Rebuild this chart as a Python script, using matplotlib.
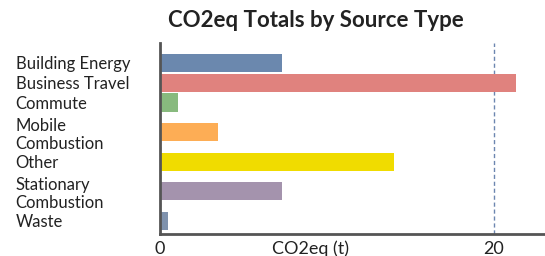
import matplotlib
matplotlib.use("Agg")
import matplotlib.pyplot as plt
import numpy as np

categories = ["Building Energy", "Business Travel", "Commute", "Mobile\nCombustion",
              "Other", "Stationary\nCombustion", "Waste"]
totals = [7.3, 21.3, 1.05, 3.45, 14.0, 7.3, 0.45]
colors = ["#6b88ae", "#e0827e", "#88ba7e", "#fdad55", "#f0dc00", "#a493ad", "#7f92ad"]

plt.rcParams['font.family'] = ['Lato', 'DejaVu Sans']

# each label takes as many rows as it has lines
nlines = [c.count("\n") + 1 for c in categories]
starts = np.cumsum([0] + nlines[:-1])
pos = starts + (np.array(nlines) - 1) / 2

fig = plt.figure(figsize=(5.45, 2.56), dpi=100)
ax = fig.add_axes([160 / 545, 22 / 256, 384 / 545, 191 / 256])
ax.barh(pos, totals, height=0.92, color=colors, zorder=2)
ax.set_xlim(0, 23)
ax.set_ylim(8.66, -1.01)

ax.set_yticks(pos)
ax.set_yticklabels(categories, fontsize=12, color="#222222", ha="left",
                   multialignment="left", linespacing=1.2)
ax.tick_params(axis="y", length=0, pad=104)
ax.set_xticks([0, 20])
ax.tick_params(axis="x", length=0, pad=5, labelsize=13, labelcolor="#222222")
ax.xaxis.grid(True, linestyle=(0, (3, 2)), color="#6c86b0", linewidth=1)

for s in ["top", "right"]:
    ax.spines[s].set_visible(False)
for s in ["left", "bottom"]:
    ax.spines[s].set_color("#555555")
    ax.spines[s].set_linewidth(2)

ax.set_xlabel("CO2eq (t)", fontsize=13, color="#222222")
ax.xaxis.set_label_coords(0.393, -0.032)
ax.xaxis.label.set_va("top")

fig.text(0.579, 0.92, "CO2eq Totals by Source Type", fontsize=16, fontweight="bold",
         ha="center", va="center", color="#222222")

fig.savefig("out.png", dpi=100)
